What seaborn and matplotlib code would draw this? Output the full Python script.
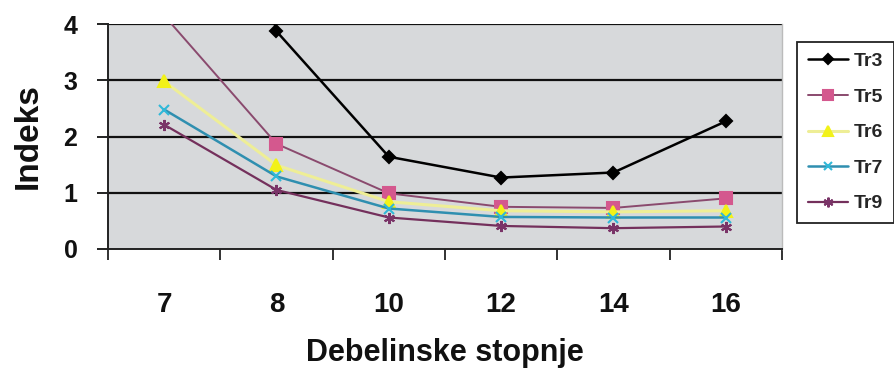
import numpy as np
import pandas as pd
import matplotlib
matplotlib.use('Agg')
import matplotlib.pyplot as plt
import seaborn as sns
from matplotlib.lines import Line2D
from matplotlib.ticker import FixedLocator

categories = ['7', '8', '10', '12', '14', '16']
tr3 = [12.0, 3.87, 1.64, 1.27, 1.36, 2.27]
tr5 = [4.15, 1.87, 0.99, 0.75, 0.73, 0.90]
tr6 = [2.98, 1.49, 0.84, 0.68, 0.66, 0.68]
tr7 = [2.48, 1.29, 0.72, 0.57, 0.56, 0.56]
tr9 = [2.21, 1.05, 0.56, 0.41, 0.37, 0.40]
series_names = ['Tr3', 'Tr5', 'Tr6', 'Tr7', 'Tr9']
y_ticks = [0, 1, 2, 3, 4]

sns.set_theme(style='white')
plt.rcParams['font.family'] = ['Liberation Sans', 'DejaVu Sans']
plt.rcParams['font.weight'] = 'bold'

data = {'Tr3': tr3, 'Tr5': tr5, 'Tr6': tr6, 'Tr7': tr7, 'Tr9': tr9}
rows = []
for name in series_names:
    for c, v in zip(categories, data[name]):
        rows.append({'cat': c, 'val': v, 'series': name})
df = pd.DataFrame(rows)
df['pos'] = df['cat'].map({c: i for i, c in enumerate(categories)})

styles = {
    'Tr3': dict(line='#000000', mfc='#000000', marker='D', ms=6, lw=1.8),
    'Tr5': dict(line='#8a4a6e', mfc='#d4588e', marker='s', ms=8, lw=1.4),
    'Tr6': dict(line='#eeee96', mfc='#f2f218', marker='^', ms=8, lw=2.2),
    'Tr7': dict(line='#2f8fb0', mfc='#30b8d8', marker='x', ms=7, lw=1.8),
    'Tr9': dict(line='#74305c', mfc='#7a3468', marker=(6, 2, 0), ms=8, lw=1.6),
}

fig = plt.figure(figsize=(8.95, 3.70), dpi=100)
ax = fig.add_axes([108 / 895, 1 - 249 / 370, 674 / 895, 225 / 370])
ax.set_facecolor('#d7d9db')

for name in series_names:
    st = styles[name]
    sub = df[df['series'] == name]
    sns.lineplot(data=sub, x='pos', y='val', ax=ax, color=st['line'], lw=st['lw'],
                 marker=st['marker'], markersize=st['ms'], markerfacecolor=st['mfc'],
                 markeredgecolor=st['mfc'], markeredgewidth=1.5, legend=False,
                 estimator=None, sort=False, zorder=3)

ax.set_ylim(0, 4)
ax.set_xlim(-0.5, len(categories) - 0.5)
for y in y_ticks[1:]:
    ax.axhline(y, color='#111111', lw=1.6, zorder=2)

ax.set_yticks(y_ticks)
ax.set_yticklabels([str(t) for t in y_ticks], fontsize=18, fontweight='bold')
ax.set_xticks(range(len(categories)))
ax.set_xticklabels(categories, fontsize=20, fontweight='bold')
ax.xaxis.set_minor_locator(FixedLocator(np.arange(-0.5, len(categories), 1.0)))
ax.tick_params(axis='x', which='major', length=0, pad=31, colors='#111111')
ax.tick_params(axis='x', which='minor', length=8, width=1.3, color='#222222', bottom=True)
ax.tick_params(axis='y', which='major', length=8, width=1.3, pad=14, colors='#111111', left=True)

for s in ['left', 'bottom']:
    ax.spines[s].set_color('#222222')
    ax.spines[s].set_linewidth(1.4)
ax.spines['top'].set_visible(False)
ax.spines['right'].set_color('#bbbbbb')
ax.spines['right'].set_linewidth(1.0)

ax.set_xlabel('Debelinske stopnje', fontsize=22, fontweight='bold', labelpad=14, color='#111111')
ax.set_ylabel('Indeks', fontsize=24, fontweight='bold', labelpad=14, color='#111111')

handles = []
for name in series_names:
    st = styles[name]
    handles.append(Line2D([0], [0], color=st['line'], lw=st['lw'], marker=st['marker'],
                          markersize=st['ms'] - 1, markerfacecolor=st['mfc'],
                          markeredgecolor=st['mfc'], markeredgewidth=1.5))
leg = ax.legend(handles, series_names, loc='upper left', bbox_to_anchor=(1.022, 0.92),
                borderaxespad=0, frameon=True, fancybox=False, framealpha=1,
                edgecolor='#222222', facecolor='white',
                prop={'weight': 'bold', 'size': 14}, labelspacing=0.92,
                handlelength=2.1, handletextpad=0.3, borderpad=0.55)
leg.get_frame().set_linewidth(1.3)

fig.savefig('out.png', dpi=100, facecolor='white')
